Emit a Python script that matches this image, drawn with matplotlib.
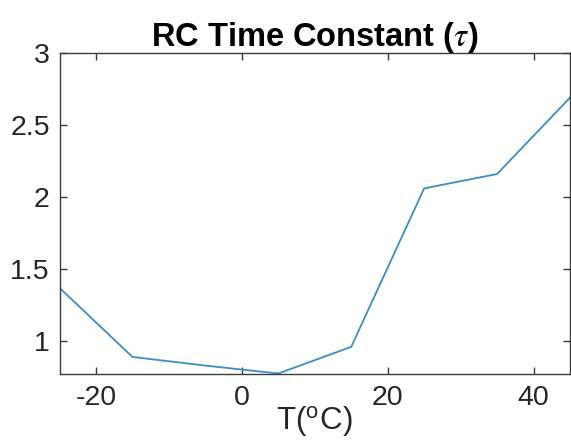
import matplotlib
matplotlib.use("Agg")
import matplotlib.pyplot as plt

# temperature sweep and measured time constant
temp_c = [-25, -15, -5, 5, 15, 25, 35, 45]
tau = [1.37, 0.89, 0.83, 0.775, 0.96, 2.06, 2.16, 2.69]

x_ticks = [-20, 0, 20, 40]
y_ticks = [1, 1.5, 2, 2.5, 3]
y_tick_labels = ["1", "1.5", "2", "2.5", "3"]

plt.rcParams['font.family'] = ['Liberation Sans', 'DejaVu Sans']
plt.rcParams['mathtext.fontset'] = 'custom'
plt.rcParams['mathtext.rm'] = 'Liberation Sans'
plt.rcParams['mathtext.it'] = 'STIXGeneral:italic'
plt.rcParams['mathtext.bf'] = 'Liberation Sans:bold'
plt.rcParams['axes.unicode_minus'] = False

fig = plt.figure(figsize=(5.71, 4.40), dpi=100)
ax = fig.add_axes([59.5 / 571, 1 - 373.5 / 440, (570 - 59.5) / 571, (373.5 - 53) / 440])

ax.plot(temp_c, tau, color='#3b8dc6', linewidth=1.3)

ax.set_xlim(-25, 45)
ax.set_ylim(min(tau), 3)
ax.set_xticks(x_ticks)
ax.set_yticks(y_ticks)
ax.set_yticklabels(y_tick_labels)

edge = '#262626'
for s in ax.spines.values():
    s.set_color('#3a3a3a')
    s.set_linewidth(1.0)
ax.tick_params(direction='in', length=5, width=1.0, color='#3a3a3a',
               top=True, right=True, labelsize=20.5, labelcolor=edge)
ax.tick_params(axis='x', pad=8)
ax.tick_params(axis='y', pad=7)

ax.set_title(r'RC Time Constant ($\tau$)', fontsize=23.5, fontweight='bold', pad=5)
ax.set_xlabel(r'T($^{\mathrm{o}}$C)', fontsize=22.5, color=edge, labelpad=-4)

fig.savefig('out.png', dpi=100)
